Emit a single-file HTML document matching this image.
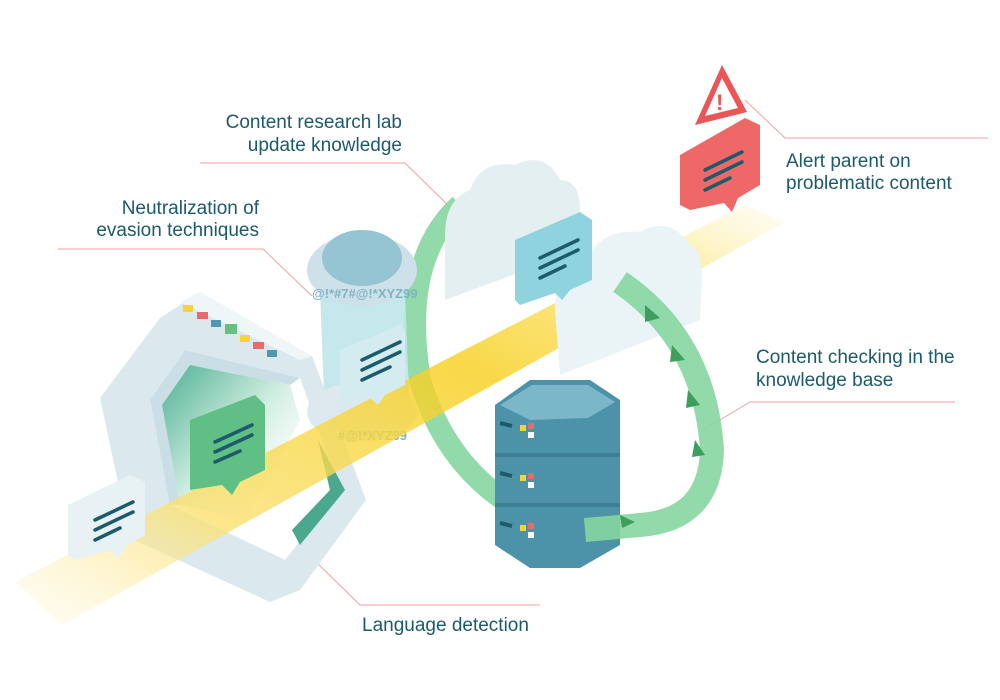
<!DOCTYPE html>
<html><head><meta charset="utf-8"><style>
html,body{margin:0;padding:0;background:#fff;}
svg{display:block}
text{font-family:"Liberation Sans",sans-serif;font-size:19px;fill:#1d5a6a}
</style></head><body>
<svg width="1000" height="700" viewBox="0 0 1000 700" xmlns="http://www.w3.org/2000/svg">
<defs>
<linearGradient id="beam" x1="0" y1="1" x2="1" y2="0">
<stop offset="0" stop-color="#fff3c4" stop-opacity="0.2"/>
<stop offset="0.25" stop-color="#fbe173"/>
<stop offset="0.6" stop-color="#f7cf1a"/>
<stop offset="0.85" stop-color="#fbe88a"/>
<stop offset="1" stop-color="#fff6cf" stop-opacity="0.3"/>
</linearGradient>
<linearGradient id="glass" x1="0" y1="0" x2="1" y2="1">
<stop offset="0" stop-color="#2fa27f"/><stop offset="0.5" stop-color="#c8eadb"/><stop offset="1" stop-color="#ffffff" stop-opacity="0"/>
</linearGradient>
</defs>

<g stroke="#f2a0a0" stroke-width="1" fill="none">
<polyline points="200,163 405,163 455,212"/>
<polyline points="58,249 263,249 312,296"/>
<polyline points="988,138 785,138 745,100"/>
<polyline points="955,402 750,402 700,432"/>
<polyline points="540,605 360,605 310,556"/>
</g>

<!-- green ring back -->
<path d="M460,205 Q400,260 420,380 Q450,480 540,520 L600,525" fill="none" stroke="#86d6a0" stroke-width="22" opacity="0.9"/>

<!-- hexagon frame with hole -->
<path fill-rule="evenodd" fill="#dbe9ee" d="M100,398 L160,318 L200,292 L312,356 L366,500 L300,590 L270,602 L130,538 Z M150,400 L185,350 L300,378 L340,490 L285,560 L170,505 Z"/>
<path d="M150,400 L185,350 L300,378 L290,385 L190,365 L162,405 L180,505 L170,505 Z" fill="#c9dfe5"/>
<polygon points="162,405 190,365 290,385 300,420 245,520 180,505" fill="url(#glass)" opacity="0.85"/>
<polygon points="318,440 345,490 300,545 292,530 330,490" fill="#4aa88e"/>
<polygon points="200,292 312,356 300,360 180,302" fill="#eef6f8"/>
<g>
<rect x="183" y="305" width="10" height="7" fill="#f5d33a"/>
<rect x="197" y="312" width="11" height="7" fill="#e86b6b"/>
<rect x="211" y="320" width="10" height="7" fill="#4f98b0"/>
<rect x="225" y="324" width="12" height="10" fill="#66c07f"/>
<rect x="240" y="335" width="10" height="7" fill="#f5d33a"/>
<rect x="253" y="342" width="11" height="7" fill="#e86b6b"/>
<rect x="267" y="350" width="10" height="7" fill="#4f98b0"/>
</g>

<!-- cylinder -->
<polygon points="320,290 405,290 410,420 325,420" fill="#bfe5ea" opacity="0.9"/>
<ellipse cx="362" cy="412" rx="55" ry="30" fill="#dde9ee"/>
<ellipse cx="362" cy="270" rx="55" ry="36" fill="#cfe1e8"/>
<ellipse cx="362" cy="258" rx="40" ry="28" fill="#95c4d2"/>
<text x="312" y="298" style="font-size:13px;fill:#7fb3c6;font-weight:bold">@!*#7#@!*XYZ99</text>
<text x="338" y="440" style="font-size:13px;fill:#7fb3c6;font-weight:bold">#@!*XYZ99</text>

<!-- yellow beam -->
<polygon points="15,582 745,205 785,222 62,625" fill="url(#beam)" opacity="0.8"/>

<polygon points="340,350 400,325 405,330 405,385 385,395 378,405 370,398 340,405" fill="#d4ecef"/>
<g stroke="#1d5a6a" stroke-width="3.5" stroke-linecap="round"><line x1="362" y1="360" x2="400" y2="342"/><line x1="362" y1="370" x2="400" y2="352"/><line x1="362" y1="380" x2="390" y2="367"/></g>

<!-- green bubble in frame -->
<polygon points="190,420 255,395 265,405 265,470 240,482 232,495 222,485 190,490" fill="#5fbf85"/>
<g stroke="#1d5a6a" stroke-width="3.5" stroke-linecap="round"><line x1="215" y1="442" x2="252" y2="425"/><line x1="215" y1="452" x2="252" y2="435"/><line x1="215" y1="462" x2="240" y2="451"/></g>

<!-- clouds -->
<path d="M445,300 L445,235 Q445,200 470,190 Q480,160 515,165 Q545,150 560,180 Q580,180 580,210 L580,250 Z" fill="#e4eff2"/>
<path d="M560,375 L555,310 Q555,270 585,262 Q600,228 640,232 Q670,215 690,245 Q702,250 702,275 L700,320 Z" fill="#eaf3f5"/>
<polygon points="515,240 580,212 592,220 592,280 570,290 562,300 555,293 520,305 515,300" fill="#8fd3df"/>
<g stroke="#1d5a6a" stroke-width="3.5" stroke-linecap="round"><line x1="540" y1="258" x2="578" y2="240"/><line x1="540" y1="268" x2="578" y2="250"/><line x1="540" y1="278" x2="565" y2="266"/></g>

<!-- server -->
<polygon points="495,405 530,380 590,380 620,400 620,545 580,568 530,568 495,545" fill="#4c93a9"/>
<polygon points="500,405 532,385 588,385 615,402 588,418 530,420" fill="#7ab7c8"/>
<line x1="495" y1="455" x2="620" y2="455" stroke="#3c7f93" stroke-width="4"/>
<line x1="495" y1="505" x2="620" y2="505" stroke="#3c7f93" stroke-width="4"/>
<g fill="#f5d33a"><rect x="520" y="425" width="6" height="6"/><rect x="520" y="475" width="6" height="6"/><rect x="520" y="525" width="6" height="6"/></g>
<g fill="#e86b6b"><rect x="528" y="423" width="6" height="6"/><rect x="528" y="473" width="6" height="6"/><rect x="528" y="523" width="6" height="6"/></g>
<g fill="#fff"><rect x="528" y="432" width="6" height="6"/><rect x="528" y="482" width="6" height="6"/><rect x="528" y="532" width="6" height="6"/></g>
<g stroke="#1d5a6a" stroke-width="4"><line x1="500" y1="423" x2="512" y2="426"/><line x1="500" y1="473" x2="512" y2="476"/><line x1="500" y1="523" x2="512" y2="526"/></g>

<!-- green ring front part -->
<path d="M620,282 Q705,340 712,450 Q710,520 640,525 L585,530" fill="none" stroke="#86d6a0" stroke-width="24" opacity="0.9"/>
<g fill="#3e9e5c">
<polygon points="645,305 660,318 645,322"/><polygon points="672,345 685,360 670,362"/><polygon points="688,390 700,405 686,408"/><polygon points="695,440 705,455 692,457"/><polygon points="620,515 635,522 622,528"/>
</g>

<!-- red bubble + warning -->
<polygon points="680,155 745,118 760,125 760,185 738,198 732,212 724,203 690,210 680,205" fill="#ef6868"/>
<g stroke="#1d5a6a" stroke-width="3.5" stroke-linecap="round"><line x1="705" y1="170" x2="742" y2="152"/><line x1="705" y1="180" x2="742" y2="162"/><line x1="705" y1="190" x2="730" y2="178"/></g>
<polygon points="722,65 747,112 695,125" fill="#ec5555"/>
<polygon points="722,78 738,108 705,116" fill="#fff"/>
<text x="716" y="110" style="font-size:22px;fill:#ec5555;font-weight:bold">!</text>

<!-- left bubble -->
<polygon points="68,505 130,475 145,482 145,535 128,545 118,558 110,550 75,560 68,555" fill="#e8f2f4"/>
<g stroke="#1d5a6a" stroke-width="3.5" stroke-linecap="round"><line x1="95" y1="520" x2="133" y2="502"/><line x1="95" y1="530" x2="133" y2="512"/><line x1="95" y1="540" x2="120" y2="528"/></g>

<text x="402" y="128" text-anchor="end">Content research lab</text>
<text x="402" y="151" text-anchor="end">update knowledge</text>
<text x="259" y="214" text-anchor="end">Neutralization of</text>
<text x="259" y="236" text-anchor="end">evasion techniques</text>
<text x="786" y="167">Alert parent on</text>
<text x="786" y="189">problematic content</text>
<text x="756" y="363">Content checking in the</text>
<text x="756" y="386">knowledge base</text>
<text x="362" y="631">Language detection</text>
</svg>
</body></html>
